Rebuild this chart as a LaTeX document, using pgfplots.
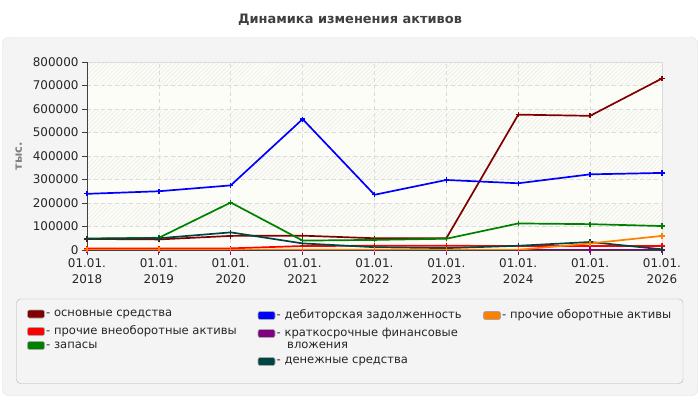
\documentclass[border=0pt]{standalone}
\usepackage{fontspec}
\setmainfont{DejaVu Sans}
\usepackage{pgfplots}
\pgfplotsset{compat=1.18}
\usetikzlibrary{patterns.meta}

\definecolor{osn}{HTML}{800000}
\definecolor{vneob}{HTML}{FF0000}
\definecolor{zap}{HTML}{008000}
\definecolor{deb}{HTML}{0000FF}
\definecolor{kfv}{HTML}{800080}
\definecolor{den}{HTML}{004444}
\definecolor{proch}{HTML}{FF8000}
\definecolor{panel}{HTML}{F4F4F4}
\definecolor{plainband}{HTML}{FDFDF7}

\newcommand{\lgfont}{\fontsize{11.6}{13}\selectfont}

\begin{document}
\begin{tikzpicture}[x=1bp,y=1bp]
% background and panel
\fill[white] (0,0) rectangle (700,400);
\draw[rounded corners=6bp, draw=black!12, fill=panel] (2.5,4.5) rectangle (697.5,362.5);
\node[font=\bfseries\fontsize{13}{15}\selectfont, text=black!75] at (350,380) {Динамика изменения активов};

% plot area background: plain and hatched bands
\fill[plainband] (87,150) rectangle (662,338);
\foreach \lo/\hi in {173.5/197, 220.5/244, 267.5/291, 314.5/338}{
  \fill[pattern={Lines[angle=45,distance=3bp,line width=0.5bp]}, pattern color=black!9] (87,\lo) rectangle (662,\hi);
}

\begin{axis}[
  at={(87bp,150bp)}, anchor=south west,
  scale only axis, width=575bp, height=188bp,
  xmin=2018, xmax=2026, ymin=0, ymax=800000,
  xtick={2018,2019,...,2026},
  xticklabels={{01.01.\\2018},{01.01.\\2019},{01.01.\\2020},{01.01.\\2021},{01.01.\\2022},{01.01.\\2023},{01.01.\\2024},{01.01.\\2025},{01.01.\\2026}},
  ytick={0,100000,...,800000},
  scaled y ticks=false,
  y tick label style={/pgf/number format/.cd, fixed, 1000 sep={}, assume math mode=true},
  tick label style={font=\fontsize{12}{15.5}\selectfont, text=black!85},
  x tick label style={align=center, yshift=-0.5bp},
  tick pos=left, tick align=outside, major tick length=5bp,
  tick style={draw=black!75, line width=0.8bp},
  grid=major, grid style={draw=black!14, dash pattern=on 4bp off 3bp, line width=0.7bp},
  axis line style={draw=black!14},
  ylabel={тыс.},
  ylabel style={font=\bfseries\fontsize{11.5}{13}\selectfont, text=black!50, yshift=4bp},
  every axis plot/.append style={line width=1.7bp, mark=+, mark size=2.6bp, mark options={solid, line width=1.3bp}},
]
% основные средства
\addplot[color=osn] coordinates {(2018,47000) (2019,45000) (2020,60000) (2021,61000) (2022,50000) (2023,50000) (2024,576000) (2025,571000) (2026,730000)};
% прочие внеоборотные активы
\addplot[color=vneob] coordinates {(2018,6000) (2019,6000) (2020,7000) (2021,17000) (2022,18000) (2023,18000) (2024,17000) (2025,17000) (2026,17000)};
% запасы
\addplot[color=zap] coordinates {(2018,49000) (2019,52000) (2020,202000) (2021,40000) (2022,43000) (2023,48000) (2024,113000) (2025,110000) (2026,102000)};
% дебиторская задолженность
\addplot[color=deb] coordinates {(2018,239000) (2019,250000) (2020,275000) (2021,557000) (2022,235000) (2023,298000) (2024,284000) (2025,322000) (2026,328000)};
% краткосрочные финансовые вложения
\addplot[color=kfv] coordinates {(2018,0) (2019,0) (2020,0) (2021,0) (2022,0) (2023,0) (2024,0) (2025,0) (2026,0)};
% денежные средства
\addplot[color=den] coordinates {(2018,48000) (2019,50000) (2020,75000) (2021,28000) (2022,12000) (2023,8000) (2024,18000) (2025,34000) (2026,3000)};
% прочие оборотные активы
\addplot[color=proch] coordinates {(2018,1000) (2019,1000) (2020,1000) (2021,1000) (2022,1000) (2023,1000) (2024,1000) (2025,28000) (2026,60000)};

\draw[black!75, line width=1bp] (rel axis cs:0,1) -- (rel axis cs:0,0) -- (rel axis cs:1,0);
\end{axis}

% legend
\draw[rounded corners=4bp, draw=black!30, fill=panel] (16.5,16.5) rectangle (683,101);
\tikzset{sw/.style={rounded corners=2bp, draw=black!35, line width=0.6bp}}
\newcommand{\lgitem}[4]{%
  \draw[sw, fill=#1] (#2,#3-4) rectangle (#2+17,#3+4);
  \node[anchor=west, inner sep=0, font=\lgfont, text=black!85, align=left] at (#2+18.5,#3) {#4};
}
\lgitem{osn}{27.5}{86}{- основные средства}
\lgitem{vneob}{27.5}{68.5}{- прочие внеоборотные активы}
\lgitem{zap}{27.5}{54.5}{- запасы}
\lgitem{deb}{258}{84.5}{- дебиторская задолженность}
\lgitem{kfv}{258}{66.5}{- краткосрочные финансовые}
\node[anchor=west, inner sep=0, font=\lgfont, text=black!85] at (287,54.5) {вложения};
\lgitem{den}{258}{38.5}{- денежные средства}
\lgitem{proch}{483.5}{84.5}{- прочие оборотные активы}
\end{tikzpicture}
\end{document}
